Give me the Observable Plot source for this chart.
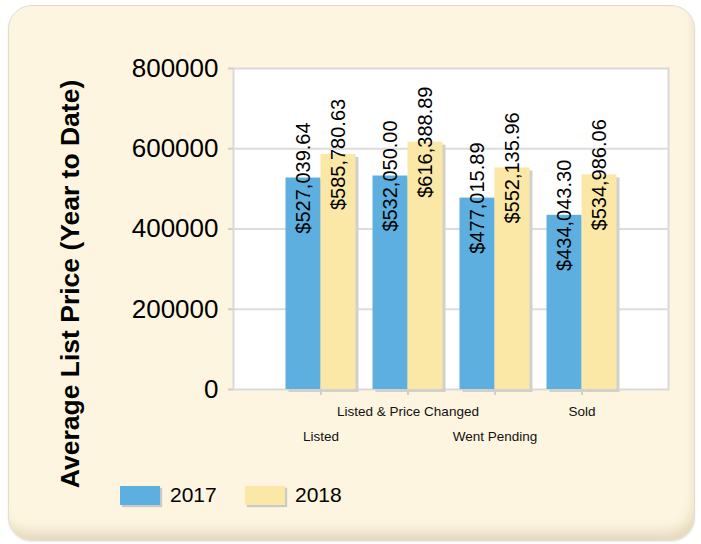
<!DOCTYPE html>
<html>
<head>
<meta charset="utf-8">
<script src="https://cdn.jsdelivr.net/npm/d3@7"></script>
<script src="https://cdn.jsdelivr.net/npm/@observablehq/plot@0.6"></script>
<style>
  html, body { margin: 0; padding: 0; background: #ffffff; }
  #wrap { position: relative; width: 701px; height: 544px; overflow: hidden; }
  #panel {
    position: absolute; left: 8px; top: 5px; width: 687px; height: 536px;
    box-sizing: border-box; border-radius: 24px;
    background: #FDF5DF;
    border: 1px solid #e2ddd0;
    box-shadow: inset -5px -14px 12px -6px rgba(140,120,70,0.22), 0 1px 2px rgba(0,0,0,0.08);
  }
  #chart { position: absolute; left: 0; top: 0; }
  .leg-item { position: absolute; top: 483px; display: flex; align-items: center;
    font-family: "Liberation Sans", Arial, sans-serif; font-size: 21px; color: #000; }
  .leg-sw { width: 40px; height: 19px; margin-right: 10px; box-shadow: 2px 2px 1px #c9c9c9; }
</style>
</head>
<body>
<div id="wrap">
  <div id="panel"></div>
  <div id="chart"></div>
  <div id="legend"></div>
</div>
<script>
const categories = ["Listed", "Listed & Price Changed", "Went Pending", "Sold"];
const values2017 = [527039.64, 532050.00, 477015.89, 434043.30];
const values2018 = [585780.63, 616388.89, 552135.96, 534986.06];
const years = ["2017", "2018"];
const colors = ["#5DAFDF", "#FCE8A6"];
const yTicks = [0, 200000, 400000, 600000, 800000];
const yTitle = "Average List Price (Year to Date)";

const rows2017 = categories.map((c, i) => ({cat: c, v: values2017[i], row: i % 2}));
const rows2018 = categories.map((c, i) => ({cat: c, v: values2018[i], row: i % 2}));
const fmt = v => "$" + d3.format(",.2f")(v);

const font = "'Liberation Sans', Arial, sans-serif";
const barW = 35;
const band = 87;
const inset = (band - barW) / 2;
const off = barW / 2;

function barsFor(rows, color, dx) {
  return [
    Plot.barY(rows, {x: "cat", y: "v", fill: "#d2d0cc", insetLeft: inset, insetRight: inset, dx: dx + 3, dy: 3}),
    Plot.barY(rows, {x: "cat", y: "v", fill: color, insetLeft: inset, insetRight: inset, dx: dx})
  ];
}
function labelsFor(rows, dx) {
  return Plot.text(rows, {x: "cat", y: "v", text: d => fmt(d.v), rotate: -90, dx: dx,
    fontSize: 20, fill: "#000", textAnchor: "middle"});
}

const marks = [
  Plot.frame({fill: "white", stroke: "#d9d9d9", strokeWidth: 2}),
  Plot.ruleY(yTicks.slice(1, -1), {stroke: "#dcdcdc", strokeWidth: 2}),
  ...barsFor(rows2017, colors[0], -off),
  ...barsFor(rows2018, colors[1], off),
  labelsFor(rows2017, -off),
  labelsFor(rows2018, off),
  Plot.text(rows2017.filter(d => d.row === 1), {x: "cat", text: "cat", frameAnchor: "bottom", lineAnchor: "middle", dy: 22, fontSize: 13.5, fill: "#111"}),
  Plot.text(rows2017.filter(d => d.row === 0), {x: "cat", text: "cat", frameAnchor: "bottom", lineAnchor: "middle", dy: 47, fontSize: 13.5, fill: "#111"})
];

if (Plot.axisY) {
  marks.push(Plot.axisY({ticks: yTicks, tickFormat: d => String(d), tickSize: 5, tickPadding: 10,
    fontSize: 26, stroke: "#cfcfcf", strokeWidth: 2, fill: "#000", label: null}));
  marks.push(Plot.axisX({tickSize: 6, tickFormat: () => "", stroke: "#cfcfcf", strokeWidth: 2, label: null}));
}

const svg = Plot.plot({
  width: 701,
  height: 450,
  marginTop: 68,
  marginBottom: 61,
  marginLeft: 233,
  marginRight: 33,
  style: {background: "transparent", fontFamily: font, color: "#000", overflow: "visible"},
  x: {domain: categories, padding: 0, insetLeft: band / 2, insetRight: band / 2, label: null, tickFormat: () => ""},
  y: {domain: [0, 800000], ticks: yTicks, tickFormat: d => String(d), label: null},
  marks
});
document.getElementById("chart").appendChild(svg);

// Y title (rotated) as an HTML overlay
const t = document.createElement("div");
t.textContent = yTitle;
Object.assign(t.style, {
  position: "absolute", left: "70px", top: "284px", transform: "translate(-50%,-50%) rotate(-90deg)",
  whiteSpace: "nowrap", fontFamily: font, fontWeight: "bold", fontSize: "26.5px", color: "#000"
});
document.getElementById("wrap").appendChild(t);

// Legend
const legend = document.getElementById("legend");
const legLeft = [120, 245];
years.forEach((y, i) => {
  const item = document.createElement("div");
  item.className = "leg-item";
  item.style.left = legLeft[i] + "px";
  const sw = document.createElement("div");
  sw.className = "leg-sw";
  sw.style.background = colors[i];
  const lab = document.createElement("span");
  lab.textContent = y;
  item.appendChild(sw);
  item.appendChild(lab);
  legend.appendChild(item);
});
</script>
</body>
</html>
